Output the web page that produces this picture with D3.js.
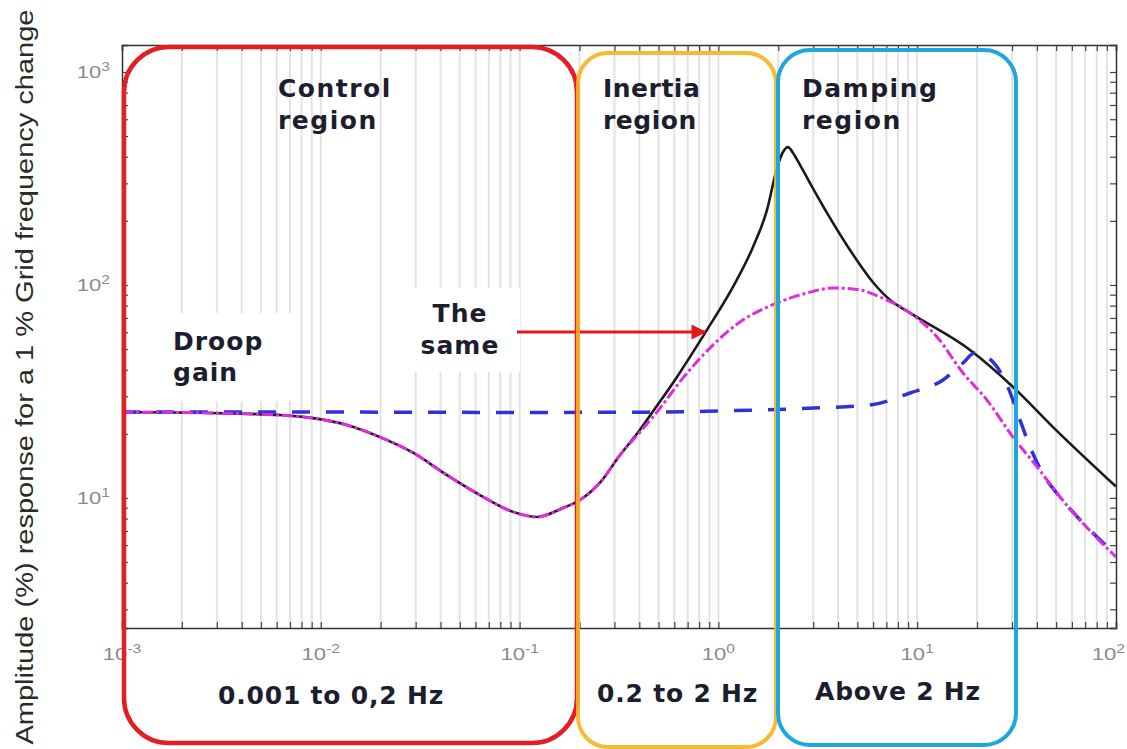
<!DOCTYPE html>
<html>
<head>
<meta charset="utf-8">
<script src="https://cdn.jsdelivr.net/npm/d3@7"></script>
<style>
  html, body { margin: 0; padding: 0; background: #ffffff; }
  svg { display: block; }
</style>
</head>
<body>
<svg id="chart" width="1127" height="749"></svg>
<script>
// ---------------- data ----------------
const freqBlack = [0.001, 0.00247, 0.00441, 0.00623, 0.00914, 0.01354, 0.01985, 0.0291, 0.0431, 0.0632, 0.0927, 0.1224, 0.1653, 0.2012, 0.2537, 0.32,
  0.4033, 0.4634, 0.619, 0.876, 1.184, 1.493, 1.756, 1.971, 2.113, 2.239, 2.373, 2.573, 2.889, 3.518, 4.59, 5.99, 7.30, 9.2, 18.44, 30.33, 48.2, 100];
const ampBlack = [25.3, 25.1, 24.8, 24.5, 23.7, 22.0, 19.3, 16.3, 12.8, 10.3, 8.6, 8.14, 8.97, 9.78, 11.8, 15.9,
  20.9, 25.1, 37.0, 61.5, 97.9, 150.8, 225, 354, 421, 444, 417, 366, 301, 218, 146, 103, 85, 73.9, 49.5, 33.2, 21.5, 11.3];

const freqMagenta = [0.001, 0.00247, 0.00441, 0.00623, 0.00914, 0.01354, 0.01985, 0.0291, 0.0431, 0.0632, 0.0927, 0.1224, 0.1653, 0.2012, 0.2537, 0.32,
  0.4033, 0.491, 0.6636, 0.907, 1.284, 1.971, 2.791, 3.771, 5.157, 6.5, 9.2, 12.58, 17.0, 22.44, 30.33, 40.05, 52.3, 100];
const ampMagenta = [25.3, 25.1, 24.8, 24.5, 23.7, 22.0, 19.3, 16.3, 12.8, 10.3, 8.6, 8.14, 8.97, 9.78, 11.8, 15.9,
  20.4, 25.3, 36.6, 50.6, 67.0, 82.3, 91.7, 96.8, 94.7, 87.8, 73.9, 57.0, 38.6, 28.8, 19.3, 14.0, 10.1, 5.28];

const freqBlue = [0.001, 0.01, 0.1, 0.5, 1.0, 3.24, 5.79, 9.2, 13.48, 17.0, 19.53, 24.06, 28.3, 32.9, 36.9, 44.97, 52.3, 100];
const ampBlue = [25.3, 25.3, 25.2, 25.3, 25.6, 26.5, 27.3, 31.1, 35.8, 43.0, 48.0, 43.5, 33.9, 23.2, 17.4, 12.1, 10.1, 5.4];

const xTickValues = [1e-3, 1e-2, 1e-1, 1e0, 1e1, 1e2];
const xTickExponents = ["-3", "-2", "-1", "0", "1", "2"];
const yTickValues = [1e1, 1e2, 1e3];
const yTickExponents = ["1", "2", "3"];

const yAxisTitle = "Amplitude (%) response for a 1 % Grid frequency change";
const regionTitles = [["Control", "region"], ["Inertia", "region"], ["Damping", "region"]];
const regionBands = ["0.001 to 0,2 Hz", "0.2 to 2 Hz", "Above 2 Hz"];
const droopLabel = ["Droop", "gain"];
const sameLabel = ["The", "same"];

// ---------------- layout ----------------
const svg = d3.select("#chart");
const W = 1127;
const L = 122, R = 1116, T = 45, B = 628;
const x = d3.scaleLog().domain([1e-3, 1e2]).range([L, R]);
const y = d3.scaleLog().domain([2.45, 1339]).range([B, T]);

const defs = svg.append("defs");
defs.append("clipPath").attr("id", "plotclip")
  .append("rect").attr("x", L).attr("y", T).attr("width", R - L).attr("height", B - T);

// vertical grid lines (all log ticks)
const gridVals = [];
for (let e = -3; e < 2; e++) for (let m = 1; m <= 9; m++) gridVals.push(m * Math.pow(10, e));
gridVals.push(100);
svg.append("g").selectAll("line").data(gridVals.filter(v => v > 1e-3 && v < 1e2)).join("line")
  .attr("x1", d => x(d)).attr("x2", d => x(d)).attr("y1", T).attr("y2", B)
  .attr("stroke", "#e3e3e3").attr("stroke-width", 2);

// axes box with inward ticks (matlab style)
const axG = svg.append("g");
axG.append("g").attr("transform", `translate(0,${B})`).call(d3.axisBottom(x).tickValues(gridVals).tickSize(-6).tickFormat(""));
axG.append("g").attr("transform", `translate(0,${T})`).call(d3.axisTop(x).tickValues(gridVals).tickSize(-6).tickFormat(""));
const yMinor = [];
for (let e = 0; e < 4; e++) for (let m = 1; m <= 9; m++) { const v = m * Math.pow(10, e); if (v > 2.45 && v < 1339) yMinor.push(v); }
axG.append("g").attr("transform", `translate(${L},0)`).call(d3.axisLeft(y).tickValues(yMinor).tickSize(-6).tickFormat(""));
axG.append("g").attr("transform", `translate(${R},0)`).call(d3.axisRight(y).tickValues(yMinor).tickSize(-6).tickFormat(""));
axG.selectAll(".domain").attr("stroke", "#333").attr("stroke-width", 1.5);
axG.selectAll(".tick line").attr("stroke", "#444").attr("stroke-width", 1.2);

// tick labels (slightly stretched like the reference)
const tickFont = "'Liberation Sans', Arial, sans-serif";
const xl = svg.append("g").selectAll("text").data(xTickValues).join("text")
  .attr("font-family", tickFont).attr("font-size", 17).attr("fill", "#8a8a8a")
  .attr("text-anchor", (d, i) => i === xTickValues.length - 1 ? "end" : "middle")
  .attr("transform", (d, i) => {
    const px = i === xTickValues.length - 1 ? (W - 2) / 1.0 : x(d);
    return `translate(${px},660) scale(1.3,1)`;
  });
xl.append("tspan").text("10");
xl.append("tspan").attr("dy", -7).attr("font-size", 12).text((d, i) => xTickExponents[i]);

const yl = svg.append("g").selectAll("text").data(yTickValues).join("text")
  .attr("transform", d => `translate(110,${y(d) + 6}) scale(1.3,1)`).attr("text-anchor", "end")
  .attr("font-family", tickFont).attr("font-size", 17).attr("fill", "#8a8a8a");
yl.append("tspan").text("10");
yl.append("tspan").attr("dy", -7).attr("font-size", 12).text((d, i) => yTickExponents[i]);

// y axis title
svg.append("text")
  .attr("transform", "translate(33,377) rotate(-90)")
  .attr("text-anchor", "middle")
  .attr("font-family", tickFont).attr("font-size", 23).attr("fill", "#2a2a2a")
  .attr("textLength", 735).attr("lengthAdjust", "spacingAndGlyphs")
  .text(yAxisTitle);

// curves
const line = d3.line().x(d => x(d[0])).y(d => y(d[1])).curve(d3.curveMonotoneX);
const curves = svg.append("g").attr("clip-path", "url(#plotclip)");
curves.append("path").datum(freqBlack.map((f, i) => [f, ampBlack[i]]))
  .attr("d", line).attr("fill", "none").attr("stroke", "#1a1a1a").attr("stroke-width", 2.6);
curves.append("path").datum(freqBlue.map((f, i) => [f, ampBlue[i]]))
  .attr("d", line).attr("fill", "none").attr("stroke", "#2f32d6").attr("stroke-width", 3.5)
  .attr("stroke-dasharray", "18,16");
curves.append("path").datum(freqMagenta.map((f, i) => [f, ampMagenta[i]]))
  .attr("d", line).attr("fill", "none").attr("stroke", "#e22ae0").attr("stroke-width", 3)
  .attr("stroke-dasharray", "11,3,3,3");

// label background boxes
svg.append("rect").attr("x", 132).attr("y", 313).attr("width", 165).attr("height", 88).attr("fill", "#fff");
svg.append("rect").attr("x", 402).attr("y", 288).attr("width", 118).attr("height", 84).attr("fill", "#fff");

const boldFont = "'DejaVu Sans', Verdana, sans-serif";
function label(lines, xPos, y0, dy, anchor, ls) {
  const t = svg.append("text").attr("font-family", boldFont).attr("font-weight", "bold")
    .attr("font-size", 25).attr("fill", "#1d1d30").attr("text-anchor", anchor)
    .attr("letter-spacing", ls);
  lines.forEach((s, i) => t.append("tspan").attr("x", xPos).attr("y", y0 + i * dy).text(s));
}
label(regionTitles[0], 278, 97, 32, "start", 1.5);
label(regionTitles[1], 603, 97, 32, "start", 0.5);
label(regionTitles[2], 802, 97, 32, "start", 1.5);
label(droopLabel, 173, 350, 31, "start", 1);
label(sameLabel, 460, 322, 32, "middle", 1);

// arrow "The same"
defs.append("marker").attr("id", "arrowhead")
  .attr("viewBox", "0 0 10 10").attr("refX", 9).attr("refY", 5)
  .attr("markerWidth", 6).attr("markerHeight", 5).attr("orient", "auto")
  .attr("markerUnits", "strokeWidth")
  .append("path").attr("d", "M0,0 L10,5 L0,10 Z").attr("fill", "#e3161c");
svg.append("line").attr("x1", 517).attr("y1", 332).attr("x2", 705).attr("y2", 332)
  .attr("stroke", "#e3161c").attr("stroke-width", 3).attr("marker-end", "url(#arrowhead)");

// band labels at bottom
const bandPos = [[218, 704], [597, 702], [815, 700]];
regionBands.forEach((s, i) => {
  svg.append("text").attr("x", bandPos[i][0]).attr("y", bandPos[i][1])
    .attr("font-family", boldFont).attr("font-weight", "bold").attr("font-size", 25)
    .attr("fill", "#1d1d30").attr("letter-spacing", 0.8).attr("xml:space", "preserve").text(s);
});

// region boxes (drawn on top of curves)
svg.append("rect").attr("x", 124).attr("y", 47).attr("width", 453).attr("height", 696).attr("rx", 45)
  .attr("fill", "none").attr("stroke", "#e31e24").attr("stroke-width", 4.5);
svg.append("rect").attr("x", 578).attr("y", 53).attr("width", 198).attr("height", 694).attr("rx", 30)
  .attr("fill", "none").attr("stroke", "#f6b21d").attr("stroke-width", 4).attr("stroke-opacity", 0.9);
svg.append("rect").attr("x", 778).attr("y", 50).attr("width", 238).attr("height", 695).attr("rx", 32)
  .attr("fill", "none").attr("stroke", "#1ea6df").attr("stroke-width", 4);
</script>
</body>
</html>
